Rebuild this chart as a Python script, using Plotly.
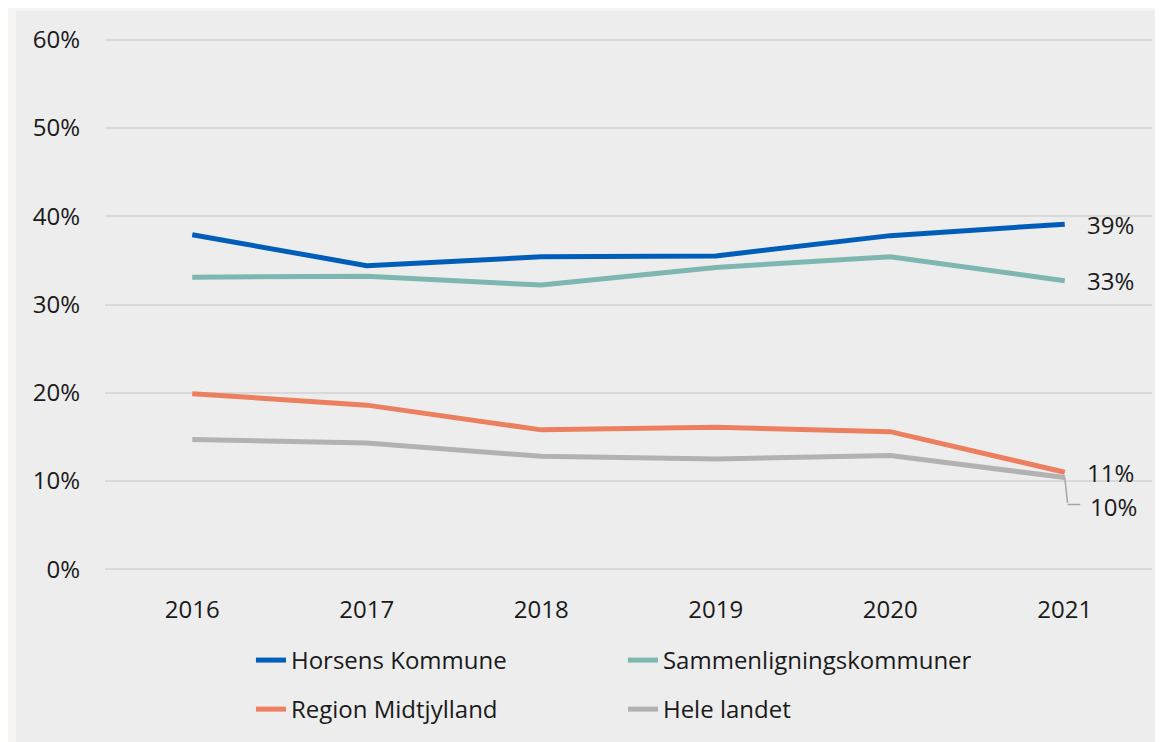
import plotly.graph_objects as go

years = ["2016", "2017", "2018", "2019", "2020", "2021"]
horsens = [0.379, 0.344, 0.354, 0.355, 0.378, 0.391]
samm = [0.331, 0.332, 0.322, 0.342, 0.354, 0.327]
region = [0.199, 0.186, 0.158, 0.161, 0.156, 0.110]
hele = [0.147, 0.143, 0.128, 0.125, 0.129, 0.104]

names = ["Horsens Kommune", "Sammenligningskommuner", "Region Midtjylland", "Hele landet"]
series = [horsens, samm, region, hele]
colors = ["#005EB8", "#7DB7AF", "#EC7F5F", "#B2B2B2"]
legends = ["legend", "legend", "legend2", "legend2"]

FONT = "Open Sans"
TXT = "#1a1a1a"
FS = 24

fig = go.Figure()
for n, s, c, lg in zip(names, series, colors, legends):
    fig.add_trace(go.Scatter(x=years, y=s, name=n, mode="lines",
                             line=dict(color=c, width=5), legend=lg))

# End labels (x given as category index of the last year)
last = len(years) - 1
for s in (horsens, samm, region):
    fig.add_annotation(x=last, y=s[last], text="%d%%" % round(s[last] * 100),
                       showarrow=False, xanchor="left", xshift=20,
                       font=dict(family=FONT, size=FS, color=TXT))
# Hele landet label with elbow leader line
fig.add_annotation(x=last, y=hele[last], text="%d%%" % round(hele[last] * 100),
                   showarrow=False, xanchor="left", xshift=23, yshift=-29,
                   font=dict(family=FONT, size=FS, color=TXT))
fig.add_annotation(x=last, y=hele[last], text="", showarrow=True,
                   arrowhead=0, arrowwidth=1.5, arrowcolor="#A6A6A6",
                   ax=3, ay=27)
fig.add_annotation(x=last, y=hele[last], text="", showarrow=True,
                   arrowhead=0, arrowwidth=1.5, arrowcolor="#A6A6A6",
                   ax=14, ay=0, xshift=3, yshift=-27)

# Inner panel background
fig.add_shape(type="rect", xref="paper", yref="paper", x0=-0.085, x1=1.1,
              y0=-0.6, y1=1.0492, fillcolor="#EDEDED", line=dict(width=0), layer="below")

fig.update_layout(
    width=1155, height=734,
    margin=dict(l=97, r=11, t=29.35, b=169.35),
    paper_bgcolor="#F6F5F3", plot_bgcolor="rgba(0,0,0,0)",
    font=dict(family=FONT, size=FS, color=TXT),
    showlegend=True,
    legend=dict(orientation="h", x=0.1394, xanchor="left", y=-0.1632, yanchor="middle",
                entrywidth=327, entrywidthmode="pixels", bgcolor="rgba(0,0,0,0)",
                font=dict(family=FONT, size=FS, color=TXT)),
    legend2=dict(orientation="h", x=0.1394, xanchor="left", y=-0.2547, yanchor="middle",
                 entrywidth=327, entrywidthmode="pixels", bgcolor="rgba(0,0,0,0)",
                 font=dict(family=FONT, size=FS, color=TXT)),
    xaxis=dict(type="category", range=[-0.5, 5.5], showgrid=False, zeroline=False,
               showline=False, ticks="", ticklabelstandoff=21,
               tickfont=dict(family=FONT, size=FS, color=TXT)),
    yaxis=dict(range=[-0.003, 0.603], tickvals=[0, 0.1, 0.2, 0.3, 0.4, 0.5, 0.6],
               tickformat=".0%", showgrid=True, gridcolor="#D9D9D9", gridwidth=2,
               zeroline=False, showline=False, ticks="", ticklabelstandoff=24,
               tickfont=dict(family=FONT, size=FS, color=TXT)),
)

fig.write_html("out.html")
